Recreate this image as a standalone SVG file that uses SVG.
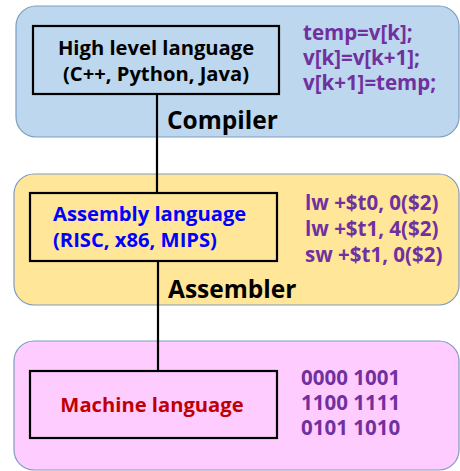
<svg xmlns="http://www.w3.org/2000/svg" width="460" height="471" viewBox="0 0 460 471">
<style>
.panel{stroke:#7f9cc0;stroke-width:1.2}
.box{fill:none;stroke:#000;stroke-width:2.2}
.t{font-family:"Open Sans","Noto Sans","DejaVu Sans",sans-serif;font-weight:bold}
.lab{font-size:20.2px;fill:#000}
.code{font-size:20.5px;fill:#7030a0}
.step{font-size:24.5px;fill:#000}
</style>
<g id="compiler-panel">
<rect class="panel" x="16" y="6" width="443" height="131" rx="20" fill="#bdd7ee"/>
<text class="t step" x="167" y="129">Compiler</text>
<text class="t code" x="303" y="40">temp=v[k];</text>
<text class="t code" x="303" y="65">v[k]=v[k+1];</text>
<text class="t code" x="303" y="90">v[k+1]=temp;</text>
</g>
<g id="assembler-panel">
<rect class="panel" x="14" y="174" width="445" height="131" rx="20" fill="#ffe699"/>
<text class="t step" x="168" y="298">Assembler</text>
<text class="t code" x="305" y="210">lw +$t0, 0($2)</text>
<text class="t code" x="305" y="236">lw +$t1, 4($2)</text>
<text class="t code" x="305" y="262">sw +$t1, 0($2)</text>
</g>
<g id="machine-panel">
<rect class="panel" x="14" y="341" width="445" height="129" rx="20" fill="#ffccff"/>
<text class="t code" x="301" y="385">0000 1001</text>
<text class="t code" x="301" y="410">1100 1111</text>
<text class="t code" x="301" y="435">0101 1010</text>
</g>
<g id="connectors" stroke="#000" stroke-width="2.2">
<line x1="157" y1="94" x2="157" y2="193"/>
<line x1="158" y1="261" x2="158" y2="371"/>
</g>
<g id="high-level">
<rect class="box" x="33" y="26" width="246" height="68"/>
<text class="t lab" x="156" y="55" text-anchor="middle">High level language</text>
<text class="t lab" x="156" y="81" text-anchor="middle">(C++, Python, Java)</text>
</g>
<g id="assembly">
<rect class="box" x="30" y="193" width="247" height="68"/>
<text class="t lab" x="53" y="221" style="fill:#0000ff">Assembly language</text>
<text class="t lab" x="53" y="247" style="fill:#0000ff">(RISC, x86, MIPS)</text>
</g>
<g id="machine">
<rect class="box" x="30" y="371" width="247" height="67"/>
<text class="t lab" x="152" y="412" text-anchor="middle" style="fill:#c00000">Machine language</text>
</g>
</svg>
